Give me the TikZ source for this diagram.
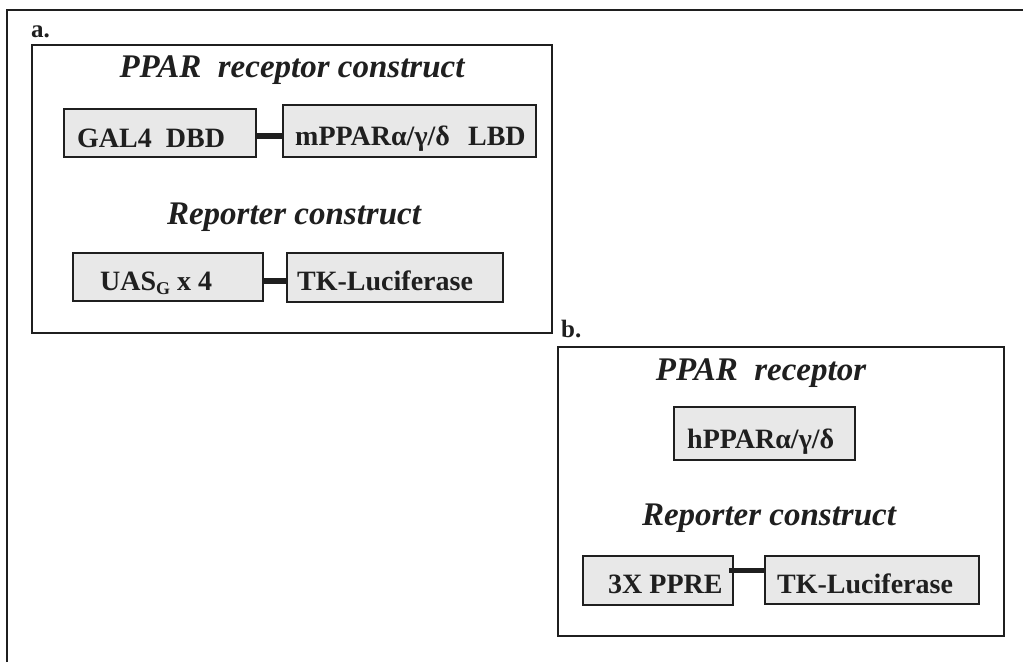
\documentclass[tikz,border=0pt]{standalone}
\usepackage{fontspec}
\setmainfont{Liberation Serif}
\definecolor{boxfill}{gray}{0.91}
\definecolor{ink}{gray}{0.12}
\begin{document}
\begin{tikzpicture}[x=1pt,y=-1pt,
  frame/.style={draw=ink, line width=1.6pt, outer sep=0pt, inner sep=0pt},
  box/.style={draw=ink, line width=1.4pt, fill=boxfill, inner sep=0pt, outer sep=0pt, anchor=north west},
  ttl/.style={font=\fontsize{33}{33}\selectfont\bfseries\itshape, text=ink, inner sep=0pt, anchor=base},
  btxt/.style={font=\fontsize{28}{28}\selectfont\bfseries, text=ink, inner sep=0pt, anchor=base west},
  lbl/.style={font=\fontsize{25}{25}\selectfont\bfseries, text=ink, inner sep=0pt, anchor=base west},
  bar/.style={line width=6.5pt, draw=ink}]
\useasboundingbox (0,0) rectangle (1023,662);
% outer frame (top and left edges only)
\draw[frame] (7,662) -- (7,10) -- (1023,10);
% panel a
\node[lbl] (la) at (31,37) {a.};
\node[frame, anchor=north west, minimum width=520pt, minimum height=288pt] (pa) at (32,45) {};
\node[ttl] (ta) at (292,77) {PPAR\ \ receptor construct};
\node[box, minimum width=192pt, minimum height=48pt] (gal) at (64,109) {};
\node[box, minimum width=253pt, minimum height=52pt] (mp) at (283,105) {};
\node[btxt] (galt) at (77,147) {GAL4\ \ DBD};
\node[btxt] (mpt) at (295,145) {mPPARα/γ/δ\hspace{0.65em}LBD};
\draw[bar] (gal.east |- 0,136) -- (mp.west |- 0,136);
\node[ttl] (ra) at (294,224) {Reporter construct};
\node[box, minimum width=190pt, minimum height=48pt] (uas) at (73,253) {};
\node[box, minimum width=216pt, minimum height=49pt] (tka) at (287,253) {};
\node[btxt] (uast) at (100,290) {UAS\raisebox{-0.35ex}{\fontsize{18}{18}\selectfont G}\ x 4};
\node[btxt] (tkat) at (297,290) {TK-Luciferase};
\draw[bar] (uas.east |- 0,281) -- (tka.west |- 0,281);
% panel b
\node[lbl] (lb) at (561,337) {b.};
\node[frame, anchor=north west, minimum width=446pt, minimum height=289pt] (pb) at (558,347) {};
\node[ttl] (tb) at (761,380) {PPAR\ \ receptor};
\node[box, minimum width=181pt, minimum height=53pt] (hp) at (674,407) {};
\node[btxt] (hpt) at (687,448) {hPPARα/γ/δ};
\node[ttl] (rb) at (769,525) {Reporter construct};
\node[box, minimum width=150pt, minimum height=49pt] (pp) at (583,556) {};
\node[box, minimum width=214pt, minimum height=48pt] (tkb) at (765,556) {};
\node[btxt] (ppt) at (608,593) {3X PPRE};
\node[btxt] (tkbt) at (777,593) {TK-Luciferase};
\draw[bar, line width=5pt] ([xshift=-4pt]pp.east |- 0,570) -- (tkb.west |- 0,570);
\end{tikzpicture}
\end{document}
